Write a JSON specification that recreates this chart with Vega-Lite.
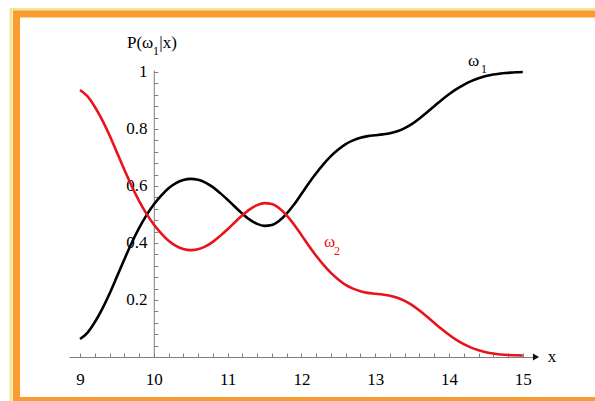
{
  "$schema": "https://vega.github.io/schema/vega-lite/v6.json",
  "width": 467,
  "height": 287,
  "autosize": {"type": "none"},
  "padding": {"left": 69, "top": 70, "right": 59, "bottom": 44},
  "background": "white",
  "config": {"view": {"stroke": null}, "font": "Liberation Serif"},
  "datasets": {
    "one": [{"k": 1}],
    "curves": [
      {"x": 9.0, "p": 0.063, "c": "ω1"}, {"x": 9.1, "p": 0.085, "c": "ω1"}, {"x": 9.2, "p": 0.122, "c": "ω1"},
      {"x": 9.3, "p": 0.168, "c": "ω1"}, {"x": 9.4, "p": 0.222, "c": "ω1"}, {"x": 9.5, "p": 0.282, "c": "ω1"},
      {"x": 9.6, "p": 0.342, "c": "ω1"}, {"x": 9.7, "p": 0.4, "c": "ω1"}, {"x": 9.8, "p": 0.452, "c": "ω1"},
      {"x": 9.9, "p": 0.497, "c": "ω1"}, {"x": 10.0, "p": 0.535, "c": "ω1"}, {"x": 10.1, "p": 0.566, "c": "ω1"},
      {"x": 10.2, "p": 0.592, "c": "ω1"}, {"x": 10.3, "p": 0.61, "c": "ω1"}, {"x": 10.4, "p": 0.621, "c": "ω1"},
      {"x": 10.5, "p": 0.625, "c": "ω1"}, {"x": 10.6, "p": 0.622, "c": "ω1"}, {"x": 10.7, "p": 0.612, "c": "ω1"},
      {"x": 10.8, "p": 0.596, "c": "ω1"}, {"x": 10.9, "p": 0.575, "c": "ω1"}, {"x": 11.0, "p": 0.552, "c": "ω1"},
      {"x": 11.1, "p": 0.527, "c": "ω1"}, {"x": 11.2, "p": 0.503, "c": "ω1"}, {"x": 11.3, "p": 0.482, "c": "ω1"},
      {"x": 11.4, "p": 0.467, "c": "ω1"}, {"x": 11.5, "p": 0.46, "c": "ω1"}, {"x": 11.6, "p": 0.463, "c": "ω1"},
      {"x": 11.7, "p": 0.478, "c": "ω1"}, {"x": 11.8, "p": 0.503, "c": "ω1"}, {"x": 11.9, "p": 0.535, "c": "ω1"},
      {"x": 12.0, "p": 0.572, "c": "ω1"}, {"x": 12.1, "p": 0.61, "c": "ω1"}, {"x": 12.2, "p": 0.645, "c": "ω1"},
      {"x": 12.3, "p": 0.677, "c": "ω1"}, {"x": 12.4, "p": 0.705, "c": "ω1"}, {"x": 12.5, "p": 0.728, "c": "ω1"},
      {"x": 12.6, "p": 0.747, "c": "ω1"}, {"x": 12.7, "p": 0.76, "c": "ω1"}, {"x": 12.8, "p": 0.769, "c": "ω1"},
      {"x": 12.9, "p": 0.775, "c": "ω1"}, {"x": 13.0, "p": 0.778, "c": "ω1"}, {"x": 13.1, "p": 0.781, "c": "ω1"},
      {"x": 13.2, "p": 0.785, "c": "ω1"}, {"x": 13.3, "p": 0.792, "c": "ω1"}, {"x": 13.4, "p": 0.803, "c": "ω1"},
      {"x": 13.5, "p": 0.818, "c": "ω1"}, {"x": 13.6, "p": 0.837, "c": "ω1"}, {"x": 13.7, "p": 0.858, "c": "ω1"},
      {"x": 13.8, "p": 0.88, "c": "ω1"}, {"x": 13.9, "p": 0.902, "c": "ω1"}, {"x": 14.0, "p": 0.922, "c": "ω1"},
      {"x": 14.1, "p": 0.94, "c": "ω1"}, {"x": 14.2, "p": 0.955, "c": "ω1"}, {"x": 14.3, "p": 0.968, "c": "ω1"},
      {"x": 14.4, "p": 0.978, "c": "ω1"}, {"x": 14.5, "p": 0.986, "c": "ω1"}, {"x": 14.6, "p": 0.991, "c": "ω1"},
      {"x": 14.7, "p": 0.995, "c": "ω1"}, {"x": 14.8, "p": 0.997, "c": "ω1"}, {"x": 14.9, "p": 0.999, "c": "ω1"},
      {"x": 15.0, "p": 1.0, "c": "ω1"},
      {"x": 9.0, "p": 0.937, "c": "ω2"}, {"x": 9.1, "p": 0.915, "c": "ω2"}, {"x": 9.2, "p": 0.878, "c": "ω2"},
      {"x": 9.3, "p": 0.832, "c": "ω2"}, {"x": 9.4, "p": 0.778, "c": "ω2"}, {"x": 9.5, "p": 0.718, "c": "ω2"},
      {"x": 9.6, "p": 0.658, "c": "ω2"}, {"x": 9.7, "p": 0.6, "c": "ω2"}, {"x": 9.8, "p": 0.548, "c": "ω2"},
      {"x": 9.9, "p": 0.503, "c": "ω2"}, {"x": 10.0, "p": 0.465, "c": "ω2"}, {"x": 10.1, "p": 0.434, "c": "ω2"},
      {"x": 10.2, "p": 0.408, "c": "ω2"}, {"x": 10.3, "p": 0.39, "c": "ω2"}, {"x": 10.4, "p": 0.379, "c": "ω2"},
      {"x": 10.5, "p": 0.375, "c": "ω2"}, {"x": 10.6, "p": 0.378, "c": "ω2"}, {"x": 10.7, "p": 0.388, "c": "ω2"},
      {"x": 10.8, "p": 0.404, "c": "ω2"}, {"x": 10.9, "p": 0.425, "c": "ω2"}, {"x": 11.0, "p": 0.448, "c": "ω2"},
      {"x": 11.1, "p": 0.473, "c": "ω2"}, {"x": 11.2, "p": 0.497, "c": "ω2"}, {"x": 11.3, "p": 0.518, "c": "ω2"},
      {"x": 11.4, "p": 0.533, "c": "ω2"}, {"x": 11.5, "p": 0.54, "c": "ω2"}, {"x": 11.6, "p": 0.537, "c": "ω2"},
      {"x": 11.7, "p": 0.522, "c": "ω2"}, {"x": 11.8, "p": 0.497, "c": "ω2"}, {"x": 11.9, "p": 0.465, "c": "ω2"},
      {"x": 12.0, "p": 0.428, "c": "ω2"}, {"x": 12.1, "p": 0.39, "c": "ω2"}, {"x": 12.2, "p": 0.355, "c": "ω2"},
      {"x": 12.3, "p": 0.323, "c": "ω2"}, {"x": 12.4, "p": 0.295, "c": "ω2"}, {"x": 12.5, "p": 0.272, "c": "ω2"},
      {"x": 12.6, "p": 0.253, "c": "ω2"}, {"x": 12.7, "p": 0.24, "c": "ω2"}, {"x": 12.8, "p": 0.231, "c": "ω2"},
      {"x": 12.9, "p": 0.225, "c": "ω2"}, {"x": 13.0, "p": 0.222, "c": "ω2"}, {"x": 13.1, "p": 0.219, "c": "ω2"},
      {"x": 13.2, "p": 0.215, "c": "ω2"}, {"x": 13.3, "p": 0.208, "c": "ω2"}, {"x": 13.4, "p": 0.197, "c": "ω2"},
      {"x": 13.5, "p": 0.182, "c": "ω2"}, {"x": 13.6, "p": 0.163, "c": "ω2"}, {"x": 13.7, "p": 0.142, "c": "ω2"},
      {"x": 13.8, "p": 0.12, "c": "ω2"}, {"x": 13.9, "p": 0.098, "c": "ω2"}, {"x": 14.0, "p": 0.078, "c": "ω2"},
      {"x": 14.1, "p": 0.06, "c": "ω2"}, {"x": 14.2, "p": 0.045, "c": "ω2"}, {"x": 14.3, "p": 0.033, "c": "ω2"},
      {"x": 14.4, "p": 0.024, "c": "ω2"}, {"x": 14.5, "p": 0.017, "c": "ω2"}, {"x": 14.6, "p": 0.012, "c": "ω2"},
      {"x": 14.7, "p": 0.009, "c": "ω2"}, {"x": 14.8, "p": 0.007, "c": "ω2"}, {"x": 14.9, "p": 0.006, "c": "ω2"},
      {"x": 15.0, "p": 0.005, "c": "ω2"}
    ]
  },
  "layer": [
    {
      "data": {"name": "curves"},
      "mark": {"type": "line", "interpolate": "monotone", "strokeWidth": 2.6},
      "encoding": {
        "x": {
          "field": "x", "type": "quantitative",
          "scale": {"domain": [8.851, 15.179], "nice": false, "zero": false},
          "axis": {
            "orient": "bottom", "title": null, "grid": false, "tickCount": 200,
            "values": [9, 9.2, 9.4, 9.6, 9.8, 10, 10.2, 10.4, 10.6, 10.8, 11, 11.2, 11.4, 11.6, 11.8, 12, 12.2, 12.4, 12.6, 12.8, 13, 13.2, 13.4, 13.6, 13.8, 14, 14.2, 14.4, 14.6, 14.8, 15],
            "format": ".0f",
            "labelExpr": "abs(datum.value - round(datum.value)) < 0.01 ? datum.label : ''",
            "tickSize": -4, "tickColor": "#7f7f7f", "tickWidth": 1,
            "domainColor": "#7f7f7f", "domainWidth": 1,
            "labelFont": "Liberation Serif", "labelFontSize": 17, "labelColor": "#000000",
            "labelPadding": 31, "labelBaseline": "alphabetic", "labelAlign": "center",
            "labelOverlap": false, "labelFlush": false, "labelBound": false
          }
        },
        "y": {
          "field": "p", "type": "quantitative",
          "scale": {"domain": [0, 1.007], "nice": false, "zero": false},
          "axis": {
            "orient": "left", "offset": -84.8, "title": null, "grid": false, "tickCount": 200,
            "values": [0.04, 0.08, 0.12, 0.16, 0.2, 0.24, 0.28, 0.32, 0.36, 0.4, 0.44, 0.48, 0.52, 0.56, 0.6, 0.64, 0.68, 0.72, 0.76, 0.8, 0.84, 0.88, 0.92, 0.96, 1],
            "format": ".1~f",
            "labelExpr": "abs(datum.value * 5 - round(datum.value * 5)) < 0.01 ? datum.label : ''",
            "tickSize": -4, "tickColor": "#7f7f7f", "tickWidth": 1,
            "domainColor": "#7f7f7f", "domainWidth": 1,
            "labelFont": "Liberation Serif", "labelFontSize": 17, "labelColor": "#000000",
            "labelPadding": 10.8, "labelAlign": "right", "labelBaseline": "middle",
            "labelOverlap": false, "labelFlush": false, "labelBound": false
          }
        },
        "color": {"field": "c", "type": "nominal", "scale": {"domain": ["ω1", "ω2"], "range": ["#000000", "#e8141c"]}, "legend": null}
      }
    },
    {
      "data": {"name": "one"},
      "mark": {"type": "rect", "filled": false, "stroke": "#eee89a", "strokeWidth": 3, "clip": false},
      "encoding": {
        "x": {"datum": 8.0651, "type": "quantitative"},
        "x2": {"datum": 16.5},
        "y": {"datum": 1.2193, "type": "quantitative"},
        "y2": {"datum": -0.25}
      }
    },
    {
      "data": {"name": "one"},
      "mark": {"type": "rect", "filled": false, "stroke": "#fa9c32", "strokeWidth": 7, "clip": false},
      "encoding": {
        "x": {"datum": 8.1396, "type": "quantitative"},
        "x2": {"datum": 16.5},
        "y": {"datum": 1.2035, "type": "quantitative"},
        "y2": {"datum": -0.1526}
      }
    },
    {
      "data": {"name": "one"},
      "mark": {"type": "point", "shape": "triangle-right", "filled": true, "size": 50, "color": "#111111", "opacity": 1},
      "encoding": {
        "x": {"datum": 15.179, "type": "quantitative"},
        "y": {"datum": 0, "type": "quantitative"}
      }
    },
    {
      "data": {"name": "one"},
      "mark": {"type": "text", "font": "Liberation Serif", "fontSize": 17, "color": "#000000", "align": "center", "baseline": "middle"},
      "encoding": {
        "x": {"datum": 15.396, "type": "quantitative"},
        "y": {"datum": 0, "type": "quantitative"},
        "text": {"value": "x"}
      }
    },
    {
      "data": {"name": "one"},
      "mark": {"type": "text", "font": "Liberation Serif", "fontSize": 17, "color": "#000000", "align": "left", "baseline": "alphabetic"},
      "encoding": {
        "x": {"datum": 9.637, "type": "quantitative"},
        "y": {"datum": 1.0842, "type": "quantitative"},
        "text": {"value": "P(ω"}
      }
    },
    {
      "data": {"name": "one"},
      "mark": {"type": "text", "font": "Liberation Serif", "fontSize": 12, "color": "#000000", "align": "center", "baseline": "alphabetic"},
      "encoding": {
        "x": {"datum": 10.03, "type": "quantitative"},
        "y": {"datum": 1.0596, "type": "quantitative"},
        "text": {"value": "1"}
      }
    },
    {
      "data": {"name": "one"},
      "mark": {"type": "text", "font": "Liberation Serif", "fontSize": 17, "color": "#000000", "align": "left", "baseline": "alphabetic"},
      "encoding": {
        "x": {"datum": 10.075, "type": "quantitative"},
        "y": {"datum": 1.0842, "type": "quantitative"},
        "text": {"value": "|x)"}
      }
    },
    {
      "data": {"name": "one"},
      "mark": {"type": "text", "font": "Liberation Serif", "fontSize": 17, "color": "#000000", "align": "left", "baseline": "alphabetic"},
      "encoding": {
        "x": {"datum": 14.257, "type": "quantitative"},
        "y": {"datum": 1.021, "type": "quantitative"},
        "text": {"value": "ω"}
      }
    },
    {
      "data": {"name": "one"},
      "mark": {"type": "text", "font": "Liberation Serif", "fontSize": 12, "color": "#000000", "align": "left", "baseline": "alphabetic"},
      "encoding": {
        "x": {"datum": 14.434, "type": "quantitative"},
        "y": {"datum": 0.9965, "type": "quantitative"},
        "text": {"value": "1"}
      }
    },
    {
      "data": {"name": "one"},
      "mark": {"type": "text", "font": "Liberation Serif", "fontSize": 17, "color": "#e8141c", "align": "left", "baseline": "alphabetic"},
      "encoding": {
        "x": {"datum": 12.306, "type": "quantitative"},
        "y": {"datum": 0.3877, "type": "quantitative"},
        "text": {"value": "ω"}
      }
    },
    {
      "data": {"name": "one"},
      "mark": {"type": "text", "font": "Liberation Serif", "fontSize": 12, "color": "#e8141c", "align": "left", "baseline": "alphabetic"},
      "encoding": {
        "x": {"datum": 12.442, "type": "quantitative"},
        "y": {"datum": 0.358, "type": "quantitative"},
        "text": {"value": "2"}
      }
    }
  ]
}
